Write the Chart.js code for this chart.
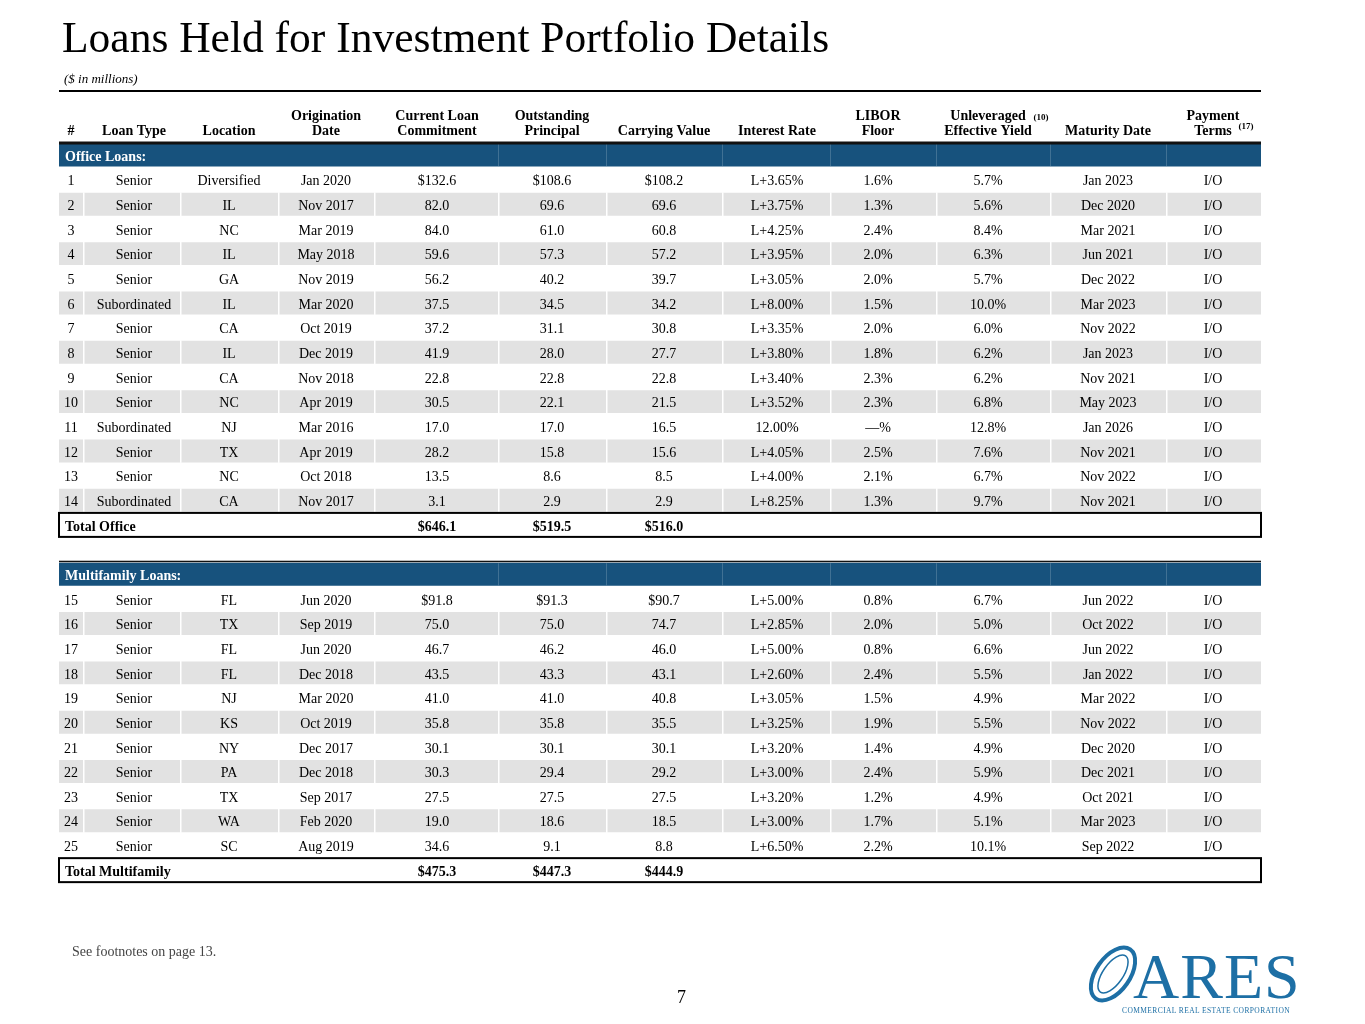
<!DOCTYPE html>
<html><head><meta charset="utf-8">
<script src="https://cdn.jsdelivr.net/npm/chart.js@4"></script>
<style>
body{margin:0;background:#fff;font-family:"Liberation Serif",serif;}
#wrap{position:absolute;left:0;top:0;width:1365px;height:1024px;}
.t{position:absolute;white-space:nowrap;color:#000;}
</style></head><body>
<div id="wrap"><canvas id="c" width="1365" height="1024"></canvas></div>
<div class="t" style="left:62px;top:12px;font-size:43.5px;">Loans Held for Investment Portfolio Details</div>
<div class="t" style="left:64px;top:71px;font-size:13px;font-style:italic;">($ in millions)</div>
<div class="t" style="left:72px;top:944px;font-size:14px;color:#444;">See footnotes on page 13.</div>
<div class="t" style="left:677px;top:987px;font-size:18px;">7</div>
<div class="t" style="left:1133px;top:940px;font-size:64px;color:#1d6fa5;letter-spacing:1px;">ARES</div>
<div class="t" style="left:1122px;top:1006px;font-size:7.5px;color:#1d6fa5;letter-spacing:0.4px;">COMMERCIAL REAL ESTATE CORPORATION</div>
<svg style="position:absolute;left:1080px;top:938px" width="70" height="70"><ellipse cx="33" cy="36" rx="17" ry="30" transform="rotate(35 33 36)" fill="none" stroke="#1d6fa5" stroke-width="4"/><ellipse cx="33" cy="36" rx="10" ry="22" transform="rotate(35 33 36)" fill="none" stroke="#1d6fa5" stroke-width="1.5"/></svg>
<script>
const loanType=["Senior","Senior","Senior","Senior","Senior","Subordinated","Senior","Senior","Senior","Senior","Subordinated","Senior","Senior","Subordinated","Senior","Senior","Senior","Senior","Senior","Senior","Senior","Senior","Senior","Senior","Senior"];
const loanLocation=["Diversified","IL","NC","IL","GA","IL","CA","IL","CA","NC","NJ","TX","NC","CA","FL","TX","FL","FL","NJ","KS","NY","PA","TX","WA","SC"];
const origination=["Jan 2020","Nov 2017","Mar 2019","May 2018","Nov 2019","Mar 2020","Oct 2019","Dec 2019","Nov 2018","Apr 2019","Mar 2016","Apr 2019","Oct 2018","Nov 2017","Jun 2020","Sep 2019","Jun 2020","Dec 2018","Mar 2020","Oct 2019","Dec 2017","Dec 2018","Sep 2017","Feb 2020","Aug 2019"];
const commitment=[132.6,82.0,84.0,59.6,56.2,37.5,37.2,41.9,22.8,30.5,17.0,28.2,13.5,3.1,91.8,75.0,46.7,43.5,41.0,35.8,30.1,30.3,27.5,19.0,34.6];
const outstanding=[108.6,69.6,61.0,57.3,40.2,34.5,31.1,28.0,22.8,22.1,17.0,15.8,8.6,2.9,91.3,75.0,46.2,43.3,41.0,35.8,30.1,29.4,27.5,18.6,9.1];
const carrying=[108.2,69.6,60.8,57.2,39.7,34.2,30.8,27.7,22.8,21.5,16.5,15.6,8.5,2.9,90.7,74.7,46.0,43.1,40.8,35.5,30.1,29.2,27.5,18.5,8.8];
const interestRate=["L+3.65%","L+3.75%","L+4.25%","L+3.95%","L+3.05%","L+8.00%","L+3.35%","L+3.80%","L+3.40%","L+3.52%","12.00%","L+4.05%","L+4.00%","L+8.25%","L+5.00%","L+2.85%","L+5.00%","L+2.60%","L+3.05%","L+3.25%","L+3.20%","L+3.00%","L+3.20%","L+3.00%","L+6.50%"];
const liborFloor=["1.6%","1.3%","2.4%","2.0%","2.0%","1.5%","2.0%","1.8%","2.3%","2.3%","—%","2.5%","2.1%","1.3%","0.8%","2.0%","0.8%","2.4%","1.5%","1.9%","1.4%","2.4%","1.2%","1.7%","2.2%"];
const yieldPct=["5.7%","5.6%","8.4%","6.3%","5.7%","10.0%","6.0%","6.2%","6.2%","6.8%","12.8%","7.6%","6.7%","9.7%","6.7%","5.0%","6.6%","5.5%","4.9%","5.5%","4.9%","5.9%","4.9%","5.1%","10.1%"];
const maturity=["Jan 2023","Dec 2020","Mar 2021","Jun 2021","Dec 2022","Mar 2023","Nov 2022","Jan 2023","Nov 2021","May 2023","Jan 2026","Nov 2021","Nov 2022","Nov 2021","Jun 2022","Oct 2022","Jun 2022","Jan 2022","Mar 2022","Nov 2022","Dec 2020","Dec 2021","Oct 2021","Mar 2023","Sep 2022"];
const payment=Array(25).fill("I/O");
const sections=[{name:"Office Loans:",total:"Total Office",from:0,to:14,totals:["$646.1","$519.5","$516.0"]},
{name:"Multifamily Loans:",total:"Total Multifamily",from:14,to:25,totals:["$475.3","$447.3","$444.9"]}];
const headers=[["","#"],["","Loan Type"],["","Location"],["Origination","Date"],["Current Loan","Commitment"],["Outstanding","Principal"],["","Carrying Value"],["","Interest Rate"],["LIBOR","Floor"],["Unleveraged","Effective Yield"],["","Maturity Date"],["Payment","Terms"]];

const colX=[71,134,229,326,437,552,664,777,878,988,1108,1213];
const seps=[83,180,278,374,498,606,722,830,936,1050,1166];
const rows=[];
sections.forEach((s,si)=>{rows.push({kind:"head",s});for(let i=s.from;i<s.to;i++)rows.push({kind:"data",i,shade:(i-s.from)%2==1});rows.push({kind:"total",s});if(si==0)rows.push({kind:"blank"});});
const labels=rows.map((r,i)=>"r"+i);
const barData=rows.map(r=>(r.kind=="head"||(r.kind=="data"&&r.shade))?[59,1261]:null);
const barColor=rows.map(r=>r.kind=="head"?"#17527d":"#e2e2e2");
const pitch=24.66, topPad=155-pitch/2;
const plug={id:"tbl",afterDatasetsDraw(ch){
 const ctx=ch.ctx,y=ch.scales.y;ctx.save();
 ctx.fillStyle="#000";ctx.fillRect(59,90,1202,2);
 ctx.font="bold 14px 'Liberation Serif'";ctx.textAlign="center";ctx.textBaseline="middle";
 headers.forEach((h,k)=>{let x=colX[k];ctx.fillText(h[0],x,116);ctx.fillText(h[1],x,131);});
 ctx.font="bold 9px 'Liberation Serif'";ctx.fillText("(10)",1041,118);ctx.fillText("(17)",1246,127);
 rows.forEach((r,ri)=>{const py=y.getPixelForValue(ri);const ty=py+2;
  if(r.kind=="data"&&r.shade){ctx.fillStyle="#fff";seps.forEach(sx=>ctx.fillRect(sx,py-12,1.5,24));}
  if(r.kind=="head"){ctx.fillStyle="rgba(255,255,255,0.18)";seps.filter(sx=>sx>=498).forEach(sx=>ctx.fillRect(sx,py-11,1,22));
   ctx.fillStyle="#111";ctx.fillRect(59,py-13.5,1202,ri==0?3:1.5);
   ctx.fillStyle="#fff";ctx.font="bold 14px 'Liberation Serif'";ctx.textAlign="left";ctx.fillText(r.s.name,65,ty);}
  if(r.kind=="data"){const i=r.i;ctx.fillStyle="#000";ctx.font="14px 'Liberation Serif'";ctx.textAlign="center";
   const d=(i==0||i==14)?"$":"";
   const v=[String(i+1),loanType[i],loanLocation[i],origination[i],d+commitment[i].toFixed(1),d+outstanding[i].toFixed(1),d+carrying[i].toFixed(1),interestRate[i],liborFloor[i],yieldPct[i],maturity[i],payment[i]];
   v.forEach((t,k)=>ctx.fillText(t,colX[k],ty));}
  if(r.kind=="total"){ctx.strokeStyle="#000";ctx.lineWidth=2;ctx.strokeRect(59,py-12,1202,24);ctx.fillStyle="#000";ctx.font="bold 14px 'Liberation Serif'";ctx.textAlign="left";ctx.fillText(r.s.total,65,ty);ctx.textAlign="center";r.s.totals.forEach((t,k)=>ctx.fillText(t,colX[4+k],ty));}
 });ctx.restore();}};
new Chart(document.getElementById("c"),{type:"bar",data:{labels,datasets:[{data:barData,backgroundColor:barColor,barPercentage:0.93,categoryPercentage:1}]},
options:{responsive:false,animation:false,indexAxis:"y",layout:{padding:{left:0,right:0,top:topPad,bottom:1024-topPad-pitch*rows.length}},
plugins:{legend:{display:false},tooltip:{enabled:false}},
scales:{x:{type:"linear",min:0,max:1365,display:false},y:{display:false}}},plugins:[plug]});
</script></body></html>
